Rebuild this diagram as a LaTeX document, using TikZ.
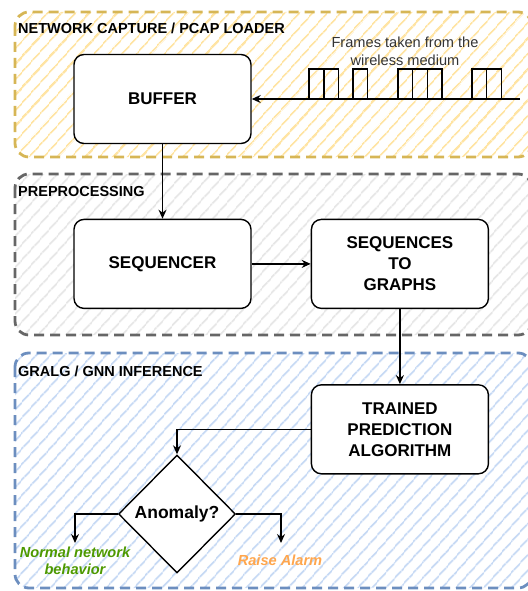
\documentclass[tikz,border=0pt]{standalone}
\usepackage{fontspec}
\setmainfont{Liberation Sans}
\usetikzlibrary{arrows.meta,positioning,calc,patterns.meta,shapes.geometric}

\definecolor{capline}{HTML}{D6B656}
\definecolor{caphatch}{HTML}{FFE4A3}
\definecolor{preline}{HTML}{666666}
\definecolor{prehatch}{HTML}{E6E6E6}
\definecolor{infline}{HTML}{6C8EBF}
\definecolor{infhatch}{HTML}{C6D9F4}
\definecolor{normalgreen}{HTML}{4D9900}
\definecolor{alarmorange}{HTML}{FFA64D}
\definecolor{wiretext}{HTML}{333333}

\begin{document}
\begin{tikzpicture}[x=1pt,y=-1pt,>={Stealth[length=9pt,width=8pt]},
    block/.style={draw,line width=1.4pt,rounded corners=10pt,fill=white,
        minimum width=177pt,minimum height=89pt,align=center,
        font=\bfseries\fontsize{17}{21}\selectfont},
    decision/.style={draw,diamond,aspect=1,line width=1.4pt,fill=white,inner sep=0pt,
        minimum width=117pt,minimum height=118pt,font=\bfseries\fontsize{17.5}{21}\selectfont},
    group/.style={line width=2.8pt,dash pattern=on 10pt off 6pt,rounded corners=14pt},
    hatch/.style={pattern={Lines[angle=48,distance=10.5pt,line width=1.8pt]}},
    grouplabel/.style={anchor=west,inner sep=0pt,font=\bfseries\fontsize{14.5}{16}\selectfont},
    outcome/.style={align=center,font=\bfseries\itshape\fontsize{14.6}{17}\selectfont},
    flow/.style={->,line width=1.3pt}]
    \useasboundingbox (0,0) rectangle (527,591);

    % groups
    \draw[group,draw=capline,hatch,pattern color=caphatch] (15,12) rectangle (532,157);
    \draw[group,draw=preline,hatch,pattern color=prehatch] (15,174) rectangle (532,335);
    \draw[group,draw=infline,hatch,pattern color=infhatch] (15,353) rectangle (532,588);
    \node[grouplabel] (caplabel) at (18,28) {NETWORK CAPTURE / PCAP LOADER};
    \node[grouplabel] (prelabel) at (18,192) {PREPROCESSING};
    \node[grouplabel] (inflabel) at (18,371) {GRALG / GNN INFERENCE};

    % blocks
    \node[block] (buffer) at (162.5,99) {BUFFER};
    \node[block,below=74.5pt of buffer] (sequencer) {SEQUENCER};
    \node[block,right=59pt of sequencer] (seqgraphs) {SEQUENCES\\TO\\GRAPHS};
    \node[block,below=75pt of seqgraphs] (trained) {TRAINED\\PREDICTION\\ALGORITHM};
    \node[decision] (anomaly) at (177,514) {Anomaly?};

    % wireless medium
    \coordinate (wire) at (520,99);
    \foreach \x in {309,324,353,398,412.7,427.4,472,486.7}
        \draw[line width=1.3pt] (\x,99) rectangle ++(14.7,-30);
    \node[align=center,text=wiretext,font=\fontsize{14.6}{18}\selectfont] (frameslabel) at (405,51)
        {Frames taken from the\\wireless medium};

    % outcomes
    \node[outcome,text=normalgreen] (normal) at (75,560.5) {Normal network\\behavior};
    \node[outcome,text=alarmorange] (alarm) at (280,560) {Raise Alarm};
    \coordinate (normaltip) at (75,543);
    \coordinate (alarmtip) at (281,543);

    % connectors
    \draw[flow] (wire) -- (buffer);
    \draw[flow] (buffer) -- (sequencer);
    \draw[flow] (sequencer) -- (seqgraphs);
    \draw[flow] (seqgraphs) -- (trained);
    \draw[flow] (trained.west) -| (anomaly.north);
    \draw[flow] (anomaly.west) -| (normaltip);
    \draw[flow] (anomaly.east) -| (alarmtip);
\end{tikzpicture}
\end{document}
